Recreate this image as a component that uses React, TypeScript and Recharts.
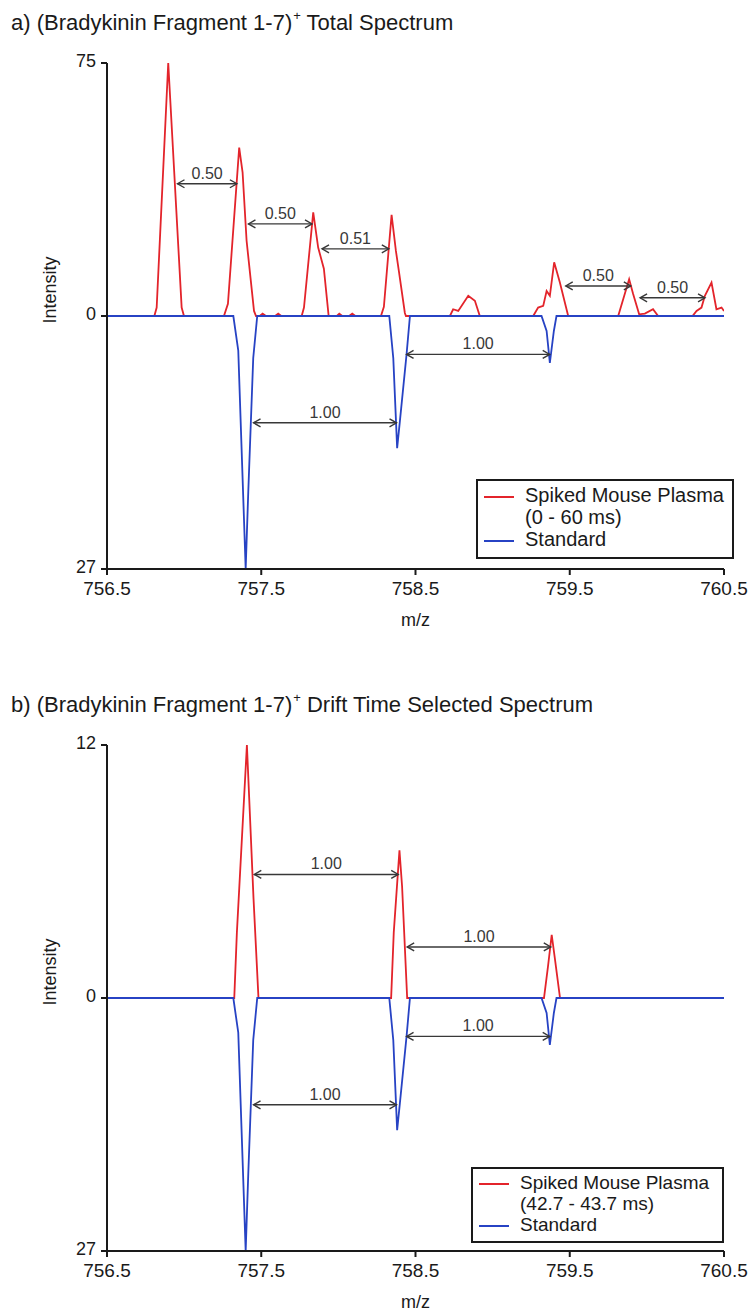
import React from "react";
import { LineChart, Line, XAxis, YAxis, ReferenceLine } from "recharts";

const FONT = '"Liberation Sans", Arial, sans-serif';
const RED = "#e3242b";
const BLUE = "#2743c4";
const INK = "#1a1a1a";
const ARROW = "#383838";

const mzTicks = [756.5, 757.5, 758.5, 759.5, 760.5];

// standard, drawn downward in both panels
const standardMz = [
  756.5, 757.319, 757.351, 757.399, 757.416, 757.448, 757.474, 758.33, 758.356,
  758.381, 758.399, 758.442, 758.464, 759.317, 759.35, 759.371, 759.397, 759.414, 760.5,
];
const standardInt = [0, 0, 3.7, 27, 18.7, 4.5, 0, 0, 4.5, 14.1, 11.2, 4.1, 0, 0, 1.6, 5, 1.6, 0, 0];

// a) spiked mouse plasma, 0 - 60 ms
const totalMz = [
  756.5, 756.807, 756.822, 756.897, 756.984, 756.999, 757.258, 757.284, 757.357, 757.379,
  757.405, 757.453, 757.466, 757.49, 757.509, 757.53, 757.59, 757.61, 757.63, 757.762,
  757.777, 757.837, 757.869, 757.906, 757.937, 757.99, 758.006, 758.025, 758.07, 758.09,
  758.11, 758.276, 758.295, 758.345, 758.373, 758.392, 758.431, 758.438, 758.723, 758.744,
  758.777, 758.842, 758.885, 758.917, 759.263, 759.295, 759.328, 759.35, 759.371, 759.399,
  759.436, 759.49, 759.814, 759.885, 759.911, 759.95, 759.987, 760.04, 760.073, 760.296,
  760.322, 760.354, 760.376, 760.419, 760.451, 760.484, 760.5,
];
const totalInt = [
  0, 0, 2.5, 75, 2.5, 0, 0, 3.6, 49.9, 42.6,
  22.3, 1.5, 0, 0, 0.7, 0, 0, 0.7, 0, 0,
  2.5, 30.7, 20.3, 14, 0, 0, 0.7, 0, 0, 0.7,
  0, 0, 2.7, 30, 19.3, 13.4, 0.9, 0, 0, 2,
  1.5, 6, 4.5, 0, 0, 2.5, 3, 7.4, 6, 15.9,
  9.9, 0, 0, 10.9, 6.5, 0.5, 0.7, 2, 0, 0,
  1.5, 2.5, 6, 9.9, 2, 2.5, 1.5,
];

// b) spiked mouse plasma, 42.7 - 43.7 ms
const driftMz = [
  756.5, 757.325, 757.342, 757.407, 757.45, 757.482, 758.342, 758.359, 758.396,
  758.413, 758.446, 759.333, 759.359, 759.383, 759.403, 759.437, 760.5,
];
const driftInt = [0, 0, 3.1, 12, 4.7, 0, 0, 3.1, 7, 5.3, 0, 0, 1.5, 3, 1.9, 0, 0];

type Spacing = { from: number; to: number; at: number; label: string };

// peak spacing arrows (m/z from, m/z to, intensity level)
const totalSpacings: Spacing[] = [
  { from: 756.957, to: 757.342, at: 39.2, label: "0.50" },
  { from: 757.417, to: 757.829, at: 27.3, label: "0.50" },
  { from: 757.894, to: 758.327, at: 19.9, label: "0.51" },
  { from: 759.474, to: 759.896, at: 8.9, label: "0.50" },
  { from: 759.956, to: 760.377, at: 5.4, label: "0.50" },
];
const driftSpacings: Spacing[] = [
  { from: 757.455, to: 758.388, at: 5.86, label: "1.00" },
  { from: 758.446, to: 759.377, at: 2.42, label: "1.00" },
];
const standardSpacings: Spacing[] = [
  { from: 757.45, to: 758.377, at: 11.4, label: "1.00" },
  { from: 758.442, to: 759.37, at: 4.1, label: "1.00" },
];

const toPoints = (mz: number[], ints: number[], sign = 1) =>
  mz.map((m, i) => ({ mz: m, v: sign * ints[i] }));

function SpacingArrow({ x1, y1, x2, y2, text }: any) {
  const h = 7;
  const w = 4;
  return (
    <g>
      <line x1={x1} y1={y1} x2={x2} y2={y2} stroke={ARROW} strokeWidth={1.4} />
      <polyline
        points={`${x1 + h},${y1 - w} ${x1},${y1} ${x1 + h},${y1 + w}`}
        fill="none"
        stroke={ARROW}
        strokeWidth={1.4}
      />
      <polyline
        points={`${x2 - h},${y2 - w} ${x2},${y2} ${x2 - h},${y2 + w}`}
        fill="none"
        stroke={ARROW}
        strokeWidth={1.4}
      />
      <text
        x={(x1 + x2) / 2}
        y={y1 - 5}
        textAnchor="middle"
        fontSize={16}
        fill={ARROW}
        fontFamily={FONT}
      >
        {text}
      </text>
    </g>
  );
}

function LegendBox({ left, top, width, height, fontSize, note }: any) {
  const sample = (color: string) => (
    <span
      style={{ display: "inline-block", width: 30, height: 0, borderTop: `2px solid ${color}`, marginLeft: 6, marginRight: 11, verticalAlign: "middle" }}
    />
  );
  return (
    <div
      style={{
        position: "absolute", left, top, width, height, boxSizing: "border-box",
        border: `2px solid ${INK}`, background: "#fff", fontFamily: FONT, fontSize,
        lineHeight: `${fontSize + 2}px`, color: INK, paddingTop: 3, whiteSpace: "nowrap",
      }}
    >
      <div>{sample(RED)}Spiked Mouse Plasma</div>
      <div style={{ paddingLeft: 47 }}>{note}</div>
      <div>{sample(BLUE)}Standard</div>
    </div>
  );
}

function SpectrumPanel({ top, title, plasmaMz, plasmaInt, spacings, note, legend }: any) {
  const plasmaMax = Math.max(...plasmaInt);
  const standardMax = Math.max(...standardInt);
  const plasma = toPoints(plasmaMz, plasmaInt);
  const standard = toPoints(standardMz, standardInt, -1);

  return (
    <div style={{ position: "absolute", left: 0, top, width: 755, height: 640 }}>
      <div
        style={{ position: "absolute", left: 11, top: 9, fontFamily: FONT, fontSize: 22, lineHeight: "27px", color: INK, whiteSpace: "nowrap" }}
      >
        {title[0]}
        <span style={{ fontSize: 13, position: "relative", top: -10, marginLeft: 1 }}>+</span>
        {title[1]}
      </div>
      <LineChart width={755} height={634} margin={{ top: 63, right: 31, left: 47, bottom: 0 }}>
        <XAxis
          type="number"
          dataKey="mz"
          domain={[756.5, 760.5]}
          ticks={mzTicks}
          interval={0}
          allowDataOverflow
          tickFormatter={(v: number) => v.toFixed(1)}
          height={65}
          tickSize={6}
          tickMargin={7}
          axisLine={{ stroke: INK, strokeWidth: 2 }}
          tickLine={{ stroke: INK, strokeWidth: 2 }}
          tick={{ fill: INK, fontSize: 19, fontFamily: FONT }}
          label={{ value: "m/z", position: "insideBottom", offset: 8, fill: INK, fontSize: 18, fontFamily: FONT }}
        />
        <YAxis
          yAxisId="plasma"
          type="number"
          domain={[-plasmaMax, plasmaMax]}
          ticks={[plasmaMax, 0, -plasmaMax]}
          interval={0}
          allowDataOverflow
          tickFormatter={(v: number) => (v < 0 ? String(standardMax) : String(v))}
          width={60}
          tickSize={6}
          tickMargin={5}
          axisLine={{ stroke: INK, strokeWidth: 2 }}
          tickLine={{ stroke: INK, strokeWidth: 2 }}
          tick={{ fill: INK, fontSize: 18, fontFamily: FONT, dy: -2 }}
          label={{
            content: () => (
              <text
                x={50}
                y={290}
                transform="rotate(-90 50 290)"
                textAnchor="middle"
                dominantBaseline="central"
                fontSize={18}
                fill={INK}
                fontFamily={FONT}
              >
                Intensity
              </text>
            ),
          }}
        />
        <YAxis yAxisId="standard" type="number" domain={[-standardMax, standardMax]} hide allowDataOverflow />
        <Line
          yAxisId="plasma"
          data={plasma}
          dataKey="v"
          type="linear"
          stroke={RED}
          strokeWidth={1.8}
          dot={false}
          activeDot={false}
          isAnimationActive={false}
        />
        <Line
          yAxisId="standard"
          data={standard}
          dataKey="v"
          type="linear"
          stroke={BLUE}
          strokeWidth={1.8}
          dot={false}
          activeDot={false}
          isAnimationActive={false}
        />
        {spacings.map((s: Spacing, i: number) => (
          <ReferenceLine
            key={`p${i}`}
            yAxisId="plasma"
            segment={[{ x: s.from, y: s.at }, { x: s.to, y: s.at }]}
            shape={(p: any) => <SpacingArrow {...p} text={s.label} />}
          />
        ))}
        {standardSpacings.map((s: Spacing, i: number) => (
          <ReferenceLine
            key={`s${i}`}
            yAxisId="standard"
            segment={[{ x: s.from, y: -s.at }, { x: s.to, y: -s.at }]}
            shape={(p: any) => <SpacingArrow {...p} text={s.label} />}
          />
        ))}
      </LineChart>
      <LegendBox {...legend} note={note} />
    </div>
  );
}

export default function App() {
  return (
    <div style={{ position: "absolute", left: 0, top: 0, width: 755, height: 1316, overflow: "hidden", background: "#fff" }}>
      <SpectrumPanel
        top={0}
        title={["a) (Bradykinin Fragment 1-7)", " Total Spectrum"]}
        plasmaMz={totalMz}
        plasmaInt={totalInt}
        spacings={totalSpacings}
        note="(0 - 60 ms)"
        legend={{ left: 476, top: 479, width: 258, height: 80, fontSize: 20 }}
      />
      <SpectrumPanel
        top={682}
        title={["b) (Bradykinin Fragment 1-7)", " Drift Time Selected Spectrum"]}
        plasmaMz={driftMz}
        plasmaInt={driftInt}
        spacings={driftSpacings}
        note="(42.7 - 43.7 ms)"
        legend={{ left: 471, top: 485, width: 253, height: 76, fontSize: 19 }}
      />
    </div>
  );
}
